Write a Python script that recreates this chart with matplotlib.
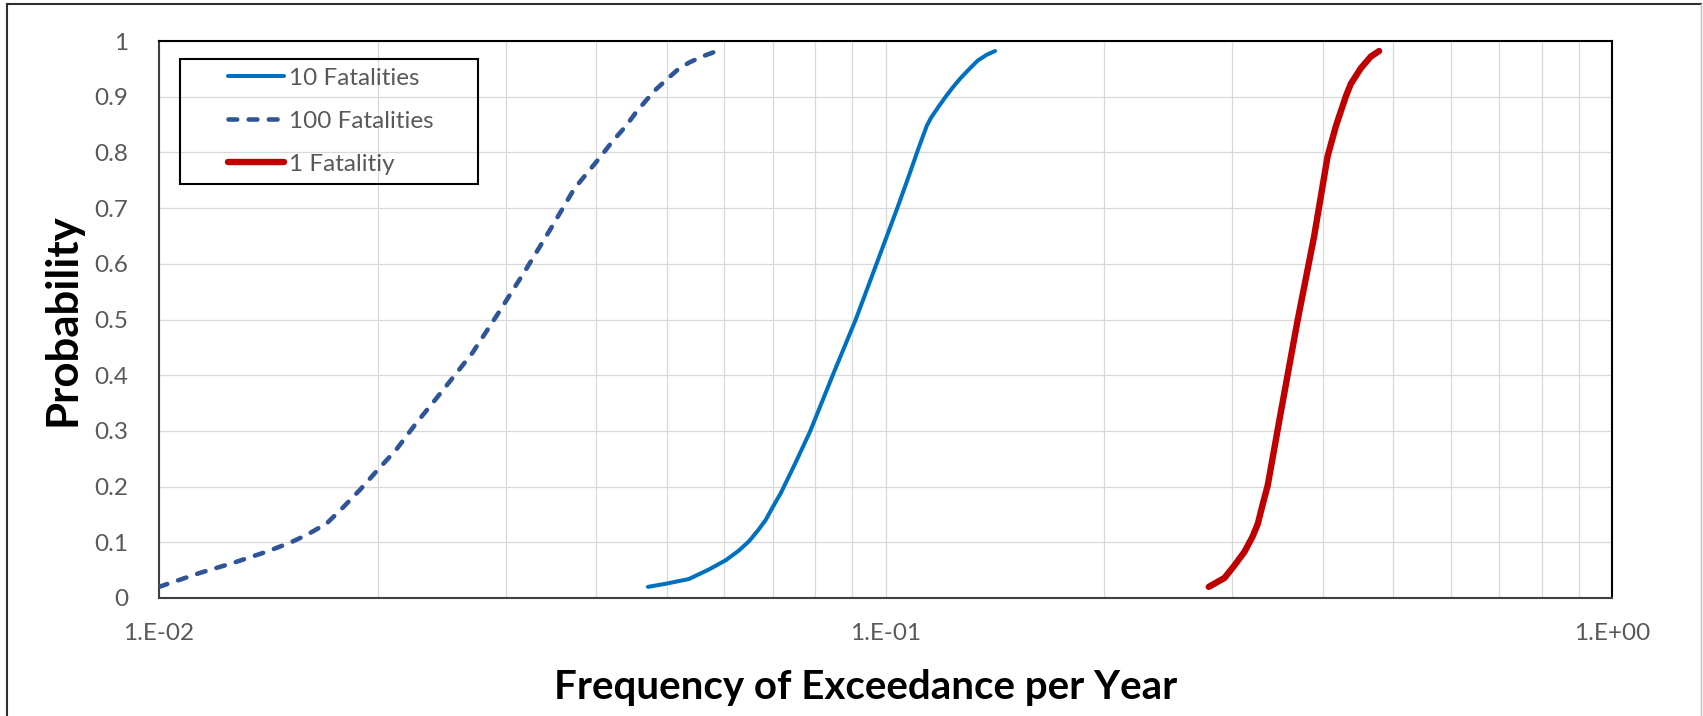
import numpy as np
import matplotlib.pyplot as plt
from matplotlib.ticker import FixedLocator, NullFormatter, FixedFormatter
from matplotlib.patches import Rectangle
from matplotlib.lines import Line2D

plt.rcParams["font.family"] = ["Lato", "DejaVu Sans"]

# (frequency per year, probability)
freq_100 = [0.0100, 0.01138, 0.01265, 0.01406, 0.01513, 0.01596, 0.01702, 0.0179,
            0.0189, 0.0200, 0.0212, 0.0226, 0.0238, 0.0249, 0.0270, 0.0294, 0.0320,
            0.0345, 0.0373, 0.0404, 0.0421, 0.0439, 0.0453, 0.0468, 0.0483, 0.0499,
            0.0517, 0.0536, 0.0559, 0.0586]
prob_100 = [0.020, 0.045, 0.063, 0.083, 0.099, 0.113, 0.134, 0.162,
            0.194, 0.230, 0.266, 0.314, 0.350, 0.382, 0.440, 0.514, 0.590,
            0.660, 0.735, 0.790, 0.820, 0.847, 0.871, 0.893, 0.913, 0.930,
            0.948, 0.961, 0.972, 0.982]

freq_10 = [0.0471, 0.0498, 0.0536, 0.0571, 0.0603, 0.0628, 0.0649, 0.0669, 0.0684,
           0.0698, 0.0718, 0.0752, 0.0788, 0.0846, 0.0910, 0.0972, 0.1038, 0.1075,
           0.111, 0.1140, 0.1155, 0.1183, 0.121, 0.124, 0.127, 0.1307, 0.134,
           0.1377, 0.1415]
prob_10 = [0.020, 0.0255, 0.034, 0.051, 0.068, 0.085, 0.102, 0.123, 0.140,
           0.161, 0.189, 0.243, 0.300, 0.400, 0.500, 0.600, 0.700, 0.755,
           0.807, 0.848, 0.862, 0.882, 0.900, 0.918, 0.934, 0.951, 0.965,
           0.975, 0.982]

freq_1 = [0.2786, 0.2928, 0.302, 0.312, 0.320, 0.3254, 0.3305, 0.3358, 0.350,
          0.369, 0.389, 0.406, 0.417, 0.430, 0.437, 0.451, 0.4655, 0.478]
prob_1 = [0.020, 0.036, 0.058, 0.083, 0.110, 0.133, 0.168, 0.202, 0.333,
          0.497, 0.649, 0.793, 0.848, 0.900, 0.923, 0.951, 0.972, 0.982]

x_ticks = [0.01, 0.1, 1.0]
x_tick_labels = ["1.E-02", "1.E-01", "1.E+00"]
y_ticks = [0, 0.1, 0.2, 0.3, 0.4, 0.5, 0.6, 0.7, 0.8, 0.9, 1.0]
y_tick_labels = ["0", "0.1", "0.2", "0.3", "0.4", "0.5", "0.6", "0.7", "0.8", "0.9", "1"]

W, H = 1703, 716
fig = plt.figure(figsize=(W / 100, H / 100), dpi=100)
ax = fig.add_axes([159 / W, 1 - 598 / H, (1612 - 159) / W, (598 - 41) / H])

ax.plot(freq_10, prob_10, color="#0070C0", lw=2.9, solid_capstyle="round",
        solid_joinstyle="round", label="10 Fatalities", zorder=3)
ax.plot(freq_100, prob_100, color="#2F5597", lw=3.3, linestyle=(0, (1.9, 2.5)),
        dash_capstyle="round", label="100 Fatalities", zorder=3)
ax.plot(freq_1, prob_1, color="#C00000", lw=4.6, solid_capstyle="round",
        solid_joinstyle="round", label="1 Fatalitiy", zorder=3)

ax.set_xscale("log")
ax.set_xlim(0.01, 1.0)
ax.set_ylim(0, 1)
ax.xaxis.set_major_locator(FixedLocator(x_ticks))
ax.xaxis.set_major_formatter(FixedFormatter(x_tick_labels))
ax.xaxis.set_minor_locator(FixedLocator([m * d for d in [0.01, 0.1] for m in range(2, 10)]))
ax.xaxis.set_minor_formatter(NullFormatter())
ax.set_yticks(y_ticks)
ax.set_yticklabels(y_tick_labels)

ax.grid(True, which="both", axis="x", color="#D9D9D9", lw=0.9)
ax.grid(True, which="major", axis="y", color="#D9D9D9", lw=0.9)
ax.set_axisbelow(True)

ax.tick_params(axis="both", which="both", length=0, labelsize=17.5, labelcolor="#595959")
ax.tick_params(axis="y", pad=22)
ax.tick_params(axis="x", pad=18)

for s in ax.spines.values():
    s.set_color("black")
    s.set_linewidth(1.5)
for s in ["left", "bottom"]:
    ax.spines[s].set_color("#404040")

fig.text(63 / W, 1 - 320 / H, "Probability", fontsize=31.5, fontweight="bold",
         rotation=90, ha="center", va="center")
fig.text(866 / W, 1 - 687 / H, "Frequency of Exceedance per Year", fontsize=29,
         fontweight="bold", ha="center", va="center")

leg = ax.legend(loc="upper left", bbox_to_anchor=(0.0475, 0.952), frameon=False,
                fontsize=17.5, labelcolor="#595959", borderpad=0, borderaxespad=0,
                handlelength=2.3, handletextpad=0.2, labelspacing=0.9)
ax.add_patch(Rectangle((21 / 1453, (598 - 184) / 557), 298 / 1453, 125 / 557,
                       transform=ax.transAxes, fill=False, edgecolor="black",
                       lw=1.5, zorder=4))

# outer chart border
fig.add_artist(Line2D([7 / W, 7 / W], [0, 1 - 4 / H], color="#303030", lw=1.5))
fig.add_artist(Line2D([7 / W, 1701 / W], [1 - 4 / H, 1 - 4 / H], color="#303030", lw=1.5))
fig.add_artist(Line2D([1701 / W, 1701 / W], [0, 1 - 4 / H], color="#BFBFBF", lw=1.0))

fig.savefig("out.png", dpi=100)
